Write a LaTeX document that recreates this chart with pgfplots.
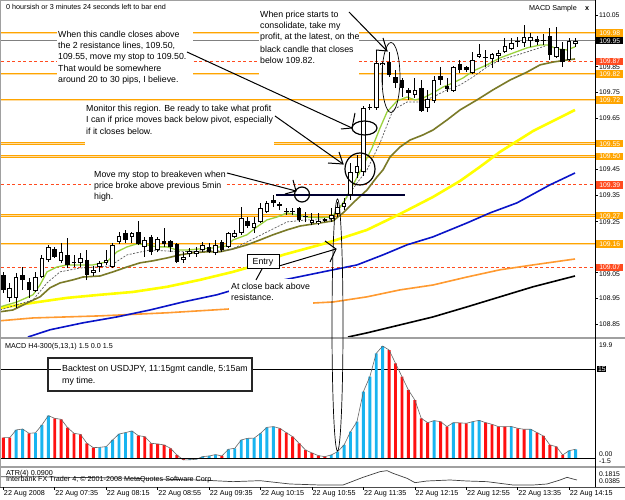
\documentclass[border=0pt]{standalone}
\usepackage{pgfplots}
\pgfplotsset{compat=1.18}
\usepackage{pgfplotstable}
\usepackage{fontspec}
\setmainfont{Liberation Sans}
\definecolor{lvlorange}{HTML}{FFA500}
\definecolor{lvlinner}{HTML}{FFDCA0}
\definecolor{lvlred}{HTML}{FF4B1F}
\definecolor{mablue}{HTML}{0A14C8}
\definecolor{maorange}{HTML}{FF9A30}
\definecolor{mayellow}{HTML}{FFFF00}
\definecolor{maolive}{HTML}{7A7A28}
\definecolor{magreen}{HTML}{9AD23C}
\definecolor{histblue}{HTML}{18B4F0}
\definecolor{histred}{HTML}{FF1010}
\definecolor{framegray}{HTML}{A0A0A0}
\newcommand{\fa}{\fontsize{8.8bp}{10bp}\selectfont}
\newcommand{\fs}{\fontsize{7.2bp}{8bp}\selectfont}
\newcommand{\fp}{\fontsize{6.8bp}{7.5bp}\selectfont}

% white (bull) candles: x low high bottom(open) top(close)
\pgfplotstableread{
x L H B T
1 108.935 109.009 108.951 108.990
2 108.912 109.048 108.951 109.032
5 108.974 109.051 108.978 109.032
6 109.028 109.117 109.032 109.106
7 109.090 109.156 109.098 109.148
9 109.086 109.164 109.094 109.129
12 109.071 109.125 109.086 109.106
14 109.036 109.075 109.048 109.059
15 109.051 109.094 109.071 109.086
16 109.079 109.137 109.086 109.098
17 109.067 109.164 109.071 109.156
18 109.160 109.206 109.168 109.191
20 109.164 109.206 109.187 109.203
22 109.110 109.187 109.148 109.176
24 109.129 109.187 109.137 109.179
28 109.086 109.129 109.098 109.110
29 109.110 109.144 109.121 109.133
30 109.110 109.148 109.121 109.133
31 109.129 109.168 109.137 109.156
33 109.117 109.176 109.125 109.156
35 109.144 109.206 109.148 109.203
36 109.183 109.214 109.187 109.203
37 109.195 109.303 109.203 109.261
39 109.203 109.265 109.222 109.241
40 109.241 109.319 109.245 109.300
41 109.280 109.327 109.284 109.319
48 109.234 109.280 109.241 109.253
49 109.234 109.280 109.241 109.249
51 109.245 109.300 109.257 109.273
52 109.265 109.323 109.276 109.304
53 109.292 109.339 109.304 109.319
54 109.331 109.475 109.351 109.440
55 109.417 109.506 109.436 109.463
56 109.425 109.697 109.440 109.689
58 109.681 109.914 109.689 109.863
59 109.778 109.867 109.856 109.863
64 109.728 109.805 109.740 109.759
66 109.673 109.759 109.689 109.724
67 109.708 109.813 109.716 109.798
70 109.751 109.852 109.755 109.848
73 109.821 109.906 109.825 109.875
74 109.883 109.937 109.887 109.898
76 109.844 109.902 109.879 109.898
77 109.867 109.914 109.891 109.902
78 109.902 109.961 109.906 109.929
79 109.914 109.961 109.918 109.941
81 109.926 110.011 109.941 109.964
82 109.926 109.980 109.949 109.964
86 109.883 110.003 109.887 109.926
88 109.871 109.961 109.875 109.949
89 109.926 109.961 109.937 109.949
}\wcandles

% black (bear) candles and dojis: x low high bottom(close) top(open)
\pgfplotstableread{
x L H B T
0 108.970 109.051 108.981 109.040
3 108.981 109.071 109.020 109.040
4 108.951 109.028 108.981 109.013
8 109.106 109.148 109.110 109.141
10 109.067 109.183 109.079 109.117
11 109.071 109.117 109.086 109.090
13 109.020 109.137 109.040 109.098
19 109.164 109.214 109.176 109.203
21 109.156 109.249 109.160 109.206
23 109.117 109.195 109.129 109.187
25 109.148 109.222 109.160 109.172
26 109.129 109.176 109.148 109.172
27 109.086 109.164 109.090 109.160
32 109.125 109.164 109.129 109.148
34 109.129 109.176 109.137 109.168
38 109.222 109.265 109.230 109.249
42 109.303 109.351 109.319 109.331
43 109.292 109.323 109.307 109.315
44 109.273 109.300 109.284 109.288
45 109.273 109.300 109.283 109.287
46 109.245 109.303 109.253 109.300
47 109.245 109.284 109.265 109.269
50 109.245 109.261 109.249 109.257
57 109.681 109.704 109.690 109.694
60 109.809 109.906 109.817 109.867
61 109.766 109.836 109.786 109.809
62 109.731 109.805 109.766 109.798
63 109.720 109.766 109.747 109.759
65 109.673 109.798 109.677 109.766
68 109.778 109.848 109.798 109.813
69 109.751 109.805 109.763 109.774
71 109.825 109.875 109.836 109.860
72 109.828 109.852 109.836 109.848
75 109.848 109.914 109.883 109.887
80 109.926 109.964 109.944 109.947
83 109.933 109.968 109.945 109.957
84 109.933 109.976 109.951 109.954
85 109.875 109.999 109.895 109.968
87 109.848 109.945 109.867 109.918
}\bcandles

\pgfplotsset{
 lvl/.style={draw=lvlorange, line width=0.9bp, double=lvlinner, double distance=0.7bp},
 rlvl/.style={draw=lvlred, line width=0.8bp, dash pattern=on 3bp off 2.5bp},
 wick/.style={draw=none, mark=none, error bars/.cd, y dir=plus, y explicit, error mark=none,
   error bar style={draw=black, line width=0.9bp}},
 body/.style={draw=none, mark=none, error bars/.cd, y dir=plus, y explicit, error mark=none,
   error bar style={draw=#1, line width=4.6bp}},
 inner/.style={draw=none, mark=none, error bars/.cd, y dir=plus, y explicit, error mark=none,
   error bar style={draw=white, line width=2.6bp}},
}

\begin{document}
\begin{tikzpicture}
\fill[white] (0,0) rectangle (625bp,500bp);
\useasboundingbox (0,0) rectangle (625bp,500bp);

% ===== main price pane =====
\begin{axis}[at={(1bp,163bp)}, anchor=south west, scale only axis,
  width=594bp, height=333bp, xmin=-0.358, xmax=92.02,
  ymin=108.799, ymax=110.0925, hide axis, clip mode=individual]
% levels
\addplot[lvl] coordinates {(-0.358,109.98) (92.02,109.98)};
\addplot[draw=gray, line width=0.8bp] coordinates {(-0.358,109.95) (92.02,109.95)};
\addplot[rlvl] coordinates {(-0.358,109.87) (92.02,109.87)};
\addplot[lvl] coordinates {(-0.358,109.82) (92.02,109.82)};
\addplot[lvl] coordinates {(-0.358,109.72) (92.02,109.72)};
\addplot[lvl] coordinates {(-0.358,109.55) (92.02,109.55)};
\addplot[lvl] coordinates {(-0.358,109.50) (92.02,109.50)};
\addplot[rlvl] coordinates {(-0.358,109.39) (92.02,109.39)};
\addplot[lvl] coordinates {(-0.358,109.27) (92.02,109.27)};
\addplot[lvl] coordinates {(-0.358,109.16) (92.02,109.16)};
\addplot[rlvl] coordinates {(-0.358,109.07) (92.02,109.07)};
% moving averages
\addplot[black, line width=1.6bp] coordinates {(53.61,108.799)(56.56,108.815)(61.70,108.846)(66.83,108.877)(72.11,108.916)(77.24,108.955)(82.38,108.994)(88.91,109.036)};
\addplot[maorange, line width=1.6bp] coordinates {(-0.5,108.862)(4.62,108.873)(15.04,108.881)(25.46,108.893)(35.26,108.908)(48.16,108.931)(51.28,108.935)(56.56,108.955)(61.70,108.982)(66.83,109.001)(72.11,109.032)(77.24,109.060)(82.38,109.079)(88.91,109.102)};
\addplot[mablue, line width=1.6bp] coordinates {(3.84,108.799)(7.26,108.827)(12.39,108.854)(17.68,108.877)(22.82,108.904)(27.95,108.935)(33.23,108.963)(35.26,108.978)(48.16,109.044)(51.28,109.060)(55.01,109.079)(59.05,109.118)(62.79,109.157)(66.83,109.188)(72.11,109.242)(75.69,109.281)(79.89,109.320)(85.02,109.390)(88.91,109.436)};
\addplot[mayellow, line width=2.6bp] coordinates {(-0.5,108.912)(4.62,108.932)(9.91,108.951)(15.04,108.963)(20.17,108.974)(25.46,108.994)(30.59,109.021)(35.72,109.052)(38.37,109.071)(43.50,109.118)(49.25,109.157)(51.28,109.172)(56.56,109.215)(61.70,109.277)(66.83,109.343)(71.03,109.405)(74.13,109.460)(77.24,109.518)(82.38,109.599)(88.91,109.681)};
\addplot[maolive, line width=1.6bp] coordinates {(-0.5,108.897)(1.51,108.904)(3.69,108.931)(5.71,108.955)(7.26,108.990)(8.82,109.009)(10.84,109.021)(12.39,109.032)(15.04,109.036)(17.06,109.052)(19.24,109.071)(21.26,109.087)(23.28,109.095)(25.46,109.106)(27.48,109.118)(29.50,109.126)(31.68,109.130)(33.70,109.130)(35.72,109.141)(37.90,109.157)(39.92,109.176)(41.94,109.196)(44.12,109.215)(46.14,109.230)(49.25,109.242)(51.28,109.250)(52.83,109.281)(54.39,109.320)(56.56,109.370)(58.12,109.421)(59.05,109.448)(60.14,109.498)(61.70,109.537)(63.25,109.564)(65.27,109.584)(66.83,109.603)(69.00,109.642)(71.03,109.681)(73.67,109.720)(76.16,109.759)(78.80,109.797)(81.45,109.828)(83.47,109.856)(85.49,109.867)(87.67,109.875)(88.91,109.879)};
\addplot[black!65, line width=0.7bp, dash pattern=on 2bp off 1.5bp] coordinates {(-0.5,108.904)(4.62,108.943)(6.80,109.009)(8.82,109.052)(11.93,109.067)(16.59,109.075)(19.24,109.118)(22.82,109.137)(27.48,109.130)(35.26,109.137)(37.90,109.168)(41.01,109.207)(44.12,109.246)(47.23,109.254)(50.81,109.254)(52.83,109.320)(55.01,109.397)(56.56,109.448)(58.59,109.553)(60.61,109.681)(62.79,109.712)(64.81,109.712)(66.83,109.731)(69.00,109.759)(71.03,109.778)(73.05,109.809)(75.22,109.848)(77.24,109.875)(79.89,109.894)(82.38,109.914)(84.25,109.929)};
\addplot[magreen, line width=1.3bp] coordinates {(-0.5,108.916)(2.13,108.935)(4.62,108.963)(5.71,109.001)(6.80,109.052)(8.35,109.071)(9.91,109.079)(11.93,109.079)(13.95,109.079)(16.13,109.091)(17.68,109.130)(19.24,109.149)(20.79,109.161)(22.35,109.157)(23.90,109.149)(25.46,109.149)(27.01,109.137)(28.57,109.137)(30.59,109.141)(32.61,109.145)(34.79,109.153)(35.72,109.176)(37.90,109.196)(39.46,109.227)(41.01,109.254)(42.56,109.265)(44.12,109.281)(45.68,109.273)(47.23,109.265)(49.25,109.262)(50.81,109.265)(51.90,109.285)(53.14,109.331)(54.39,109.390)(55.79,109.456)(57.34,109.533)(58.59,109.611)(59.68,109.673)(61.23,109.716)(62.79,109.731)(64.03,109.720)(65.27,109.727)(66.83,109.747)(68.38,109.770)(69.94,109.786)(71.49,109.805)(73.05,109.832)(75.22,109.856)(77.24,109.883)(79.27,109.902)(81.45,109.922)(83.47,109.933)(84.71,109.933)(86.11,109.918)(87.67,109.914)(88.91,109.926)};
% horizontal trend line
\addplot[black!80!blue, line width=1.4bp] coordinates {(42.4,109.351)(62.5,109.351)};
% candles: wicks
\addplot[wick] table[x=x, y=L, y error plus expr=\thisrow{H}-\thisrow{L}] {\wcandles};
\addplot[wick] table[x=x, y=L, y error plus expr=\thisrow{H}-\thisrow{L}] {\bcandles};
% candles: bodies
\addplot[body=black] table[x=x, y=B, y error plus expr=\thisrow{T}-\thisrow{B}] {\bcandles};
\addplot[body=black] table[x=x, y=B, y error plus expr=\thisrow{T}-\thisrow{B}] {\wcandles};
\addplot[inner] table[x=x, y expr=\thisrow{B}+0.0039, y error plus expr=\thisrow{T}-\thisrow{B}-0.0078] {\wcandles};
\end{axis}

% ===== MACD pane =====
\begin{axis}[at={(1bp,34bp)}, anchor=south west, scale only axis,
  width=594bp, height=127bp, xmin=-0.358, xmax=92.02,
  ymin=-1.30, ymax=20.12, hide axis, clip mode=individual]
\addplot[black, line width=0.6bp] coordinates {(-0.358,15)(92.02,15)};
\addplot[ybar, bar width=2.9bp, bar shift=0pt, fill=histblue, draw=none] coordinates {
(2,4.78)(3,4.94)(5,4.30)(6,5.62)(7,7.19)(15,1.85)(16,1.97)(17,3.09)(18,4.10)(19,4.33)(20,4.61)
(29,-0.25)(30,-0.17)(31,0.28)(32,0.39)(33,0.62)(35,1.52)(36,1.69)(37,3.09)(38,3.37)(39,3.40)(40,4.21)(41,5.22)(42,5.34)
(51,0.56)(52,1.12)(53,2.25)(54,4.49)(55,6.18)(56,11.24)(57,13.76)(58,17.70)(59,18.93)
(67,6.35)(70,6.01)(73,6.18)(74,6.40)(79,5.36)(82,4.91)(88,1.29)(89,1.52)};
\addplot[ybar, bar width=2.9bp, bar shift=0pt, fill=histred, draw=none] coordinates {
(0,3.48)(1,3.48)(4,4.21)(8,6.74)(9,6.57)(10,5.17)(11,4.21)(12,4.04)(13,2.53)(14,1.80)
(21,3.82)(22,3.65)(23,2.53)(24,2.42)(25,2.25)(26,1.69)(27,0.56)(28,-0.28)(34,0.39)
(43,5.06)(44,4.33)(45,3.65)(46,2.53)(47,1.40)(48,0.90)(49,0.45)(50,0.28)
(60,18.26)(61,16.01)(62,13.76)(63,11.52)(64,9.83)(65,6.74)(66,6.01)(68,6.18)(69,5.34)
(71,5.98)(72,5.90)(75,6.01)(76,5.73)(77,5.34)(78,5.32)(80,5.06)(81,4.89)(83,4.33)(84,3.76)(85,2.25)(86,1.97)(87,0.56)};
\addplot[black!60, line width=0.6bp] coordinates {
(0,3.48)(1,3.48)(2,4.78)(3,4.94)(4,4.21)(5,4.30)(6,5.62)(7,7.19)(8,6.74)(9,6.57)(10,5.17)(11,4.21)(12,4.04)(13,2.53)(14,1.80)(15,1.85)(16,1.97)(17,3.09)(18,4.10)(19,4.33)(20,4.61)(21,3.82)(22,3.65)(23,2.53)(24,2.42)(25,2.25)(26,1.69)(27,0.56)(28,-0.28)(29,-0.25)(30,-0.17)(31,0.28)(32,0.39)(33,0.62)(34,0.39)(35,1.52)(36,1.69)(37,3.09)(38,3.37)(39,3.40)(40,4.21)(41,5.22)(42,5.34)(43,5.06)(44,4.33)(45,3.65)(46,2.53)(47,1.40)(48,0.90)(49,0.45)(50,0.28)(51,0.56)(52,1.12)(53,2.25)(54,4.49)(55,6.18)(56,11.24)(57,13.76)(58,17.70)(59,18.93)(60,18.26)(61,16.01)(62,13.76)(63,11.52)(64,9.83)(65,6.74)(66,6.01)(67,6.35)(68,6.18)(69,5.34)(70,6.01)(71,5.98)(72,5.90)(73,6.18)(74,6.40)(75,6.01)(76,5.73)(77,5.34)(78,5.32)(79,5.36)(80,5.06)(81,4.89)(82,4.91)(83,4.33)(84,3.76)(85,2.25)(86,1.97)(87,0.56)(88,1.29)(89,1.52)};
\addplot[black, line width=0.7bp] coordinates {(-0.358,0)(92.02,0)};
\end{axis}

% ===== ATR pane =====
\begin{axis}[at={(1bp,13bp)}, anchor=south west, scale only axis,
  width=594bp, height=20bp, xmin=-0.358, xmax=92.02,
  ymin=0.0194, ymax=0.2101, hide axis, clip mode=individual]
\addplot[black!75, line width=0.7bp] coordinates {(-0.5,0.1180)(4.62,0.1180)(9.91,0.1116)(15.04,0.1084)(20.17,0.1021)(25.46,0.0925)(30.59,0.0862)(35.72,0.0703)(39.92,0.0798)(44.59,0.0480)(49.25,0.0385)(52.83,0.0385)(53.92,0.0639)(55.94,0.1116)(58.59,0.1656)(59.68,0.1752)(60.61,0.1497)(62.79,0.1021)(64.03,0.0607)(65.89,0.0766)(69.47,0.0862)(72.11,0.0766)(75.22,0.0703)(77.24,0.0544)(79.27,0.0385)(82.38,0.0385)(84.56,0.0480)(86.58,0.0862)(87.67,0.1116)(88.60,0.0957)(89.22,0.0862)};
\end{axis}

% ===== frame, annotations, labels (pixel coordinates from top-left) =====
\begin{scope}[x=1bp, y=-1bp, shift={(0bp,500bp)}]
% frame
\draw[framegray, line width=1bp] (0.5,0.5) -- (0.5,488) ;
\draw[framegray, line width=1bp] (0.5,1) -- (595,1);
\draw[framegray, line width=2bp] (0.5,338.5) -- (625,338.5);
\draw[framegray, line width=2bp] (0.5,466.8) -- (625,466.8);
\draw[black!70, line width=1bp] (0.5,487.5) -- (625,487.5);
\draw[black, line width=0.8bp] (595.3,0.5) -- (595.3,487.5);

% white text boxes hiding lines
\fill[white] (57,27) rectangle (193,87);
\fill[white] (259,8) rectangle (359,78);
\fill[white] (85,103) rectangle (274,150);
\fill[white] (91,169) rectangle (226,203);
\fill[white] (229,279) rectangle (313,312);
\fill[white] (61,362) rectangle (251,387);

\begin{scope}[every node/.style={anchor=west, inner sep=0pt, font=\fa}]
\node at (58,34) {When this candle closes above};
\node at (58,45.5) {the 2 resistance lines, 109.50,};
\node at (58,57) {109.55, move my stop to 109.50.};
\node at (58,68.5) {That would be somewhere};
\node at (58,80) {around 20 to 30 pips, I believe.};
\node at (260,15) {When price starts to};
\node at (260,26.3) {consolidate, take my};
\node at (260,37.6) {profit, at the latest, on the};
\node at (260,48.9) {black candle that closes};
\node at (260,60.2) {below 109.82.};
\node at (86,109) {Monitor this region. Be ready to take what profit};
\node at (86,120) {I can if price moves back below pivot, especially};
\node at (86,131) {if it closes below.};
\node at (94,175) {Move my stop to breakeven when};
\node at (94,186) {price broke above previous 5min};
\node at (94,197) {high.};
\node at (231,286) {At close back above};
\node at (231,297) {resistance.};
\node at (62,369) {Backtest on USDJPY, 11:15gmt candle, 5:15am};
\node at (62,381) {my time.};
\end{scope}
\draw[black, line width=1bp, fill=white] (247,255) rectangle (279,269);
\node[font=\fa, inner sep=0pt] at (263,262) {Entry};
\draw[black!85, line width=1.2bp] (48,358) rectangle (252,391);

% arrows and ellipses
\begin{scope}[black, line width=1bp]
\draw (187,52) -- (352,128);  \draw (355,113) -- (352,128) -- (341,129);
\draw (275,116) -- (343,164); \draw (339,152) -- (343,164) -- (328,163);
\draw (227,173) -- (296,191); \draw (293,180) -- (296,191) -- (285,194);
\draw (349,12) -- (387,51);   \draw (383,38) -- (387,51) -- (376,50);
\draw (279,266) -- (336,249); \draw (325,241) -- (336,249) -- (330,262);
\draw (262,269) -- (256,280);
\draw[line width=1.2bp] (302,194.5) ellipse [x radius=7.5bp, y radius=7.5bp];
\draw[line width=1.2bp] (360,169) ellipse [x radius=15bp, y radius=16bp];
\draw[line width=1.2bp] (364.5,128) ellipse [x radius=12.5bp, y radius=7bp];
\draw[line width=0.7bp] (391,77.5) ellipse [x radius=9bp, y radius=35bp];
\draw[line width=0.7bp] (337.5,325) ellipse [x radius=5.5bp, y radius=126bp];
\end{scope}

% top texts
\node[anchor=west, inner sep=0pt, font=\fs] at (6,7) {0 hoursish or 3 minutes 24 seconds left to bar end};
\node[anchor=west, inner sep=0pt, font=\fs] at (529,9) {MACD Sample};
\node[anchor=west, inner sep=0pt, font=\fs\bfseries] at (585,9) {x};
\node[anchor=west, inner sep=0pt, font=\fs] at (5,347) {MACD H4-300(5,13,1) 1.5 0.0 1.5};
\node[anchor=west, inner sep=0pt, font=\fs] at (6,474) {ATR(4) 0.0900};
\node[anchor=west, inner sep=0pt, font=\fs] at (6,480) {Interbank FX Trader 4, \textcopyright{} 2001-2008 MetaQuotes Software Corp.};

% price scale ticks (labels hidden behind level boxes are left out or nudged clear)
\foreach \yy in {14.9, 40.7, 66.4, 92.2, 117.9, 143.7, 169.5, 195.2, 221.0, 246.7, 272.5, 298.2, 324.0}{
  \draw[black, line width=0.6bp] (595,\yy) -- (598,\yy);
}
\foreach \yy/\lab in {14.9/110.05, 67.6/109.85, 92.2/109.75, 117.9/109.65, 169.5/109.45, 195.2/109.35, 222.6/109.25, 274.2/109.05, 298.2/108.95, 324.0/108.85}{
  \node[anchor=west, inner sep=0pt, font=\fp] at (599,\yy) {\lab};
}
% level boxes
\begin{scope}[every node/.style={anchor=west, inner sep=0.5bp, font=\fp, text=white, minimum width=27bp, minimum height=7.4bp}]
\node[fill=lvlorange] at (596,33.0) {109.98};
\node[fill=black] at (596,40.7) {109.95};
\node[fill=lvlred] at (596,61.3) {109.87};
\node[fill=lvlorange] at (596,74.2) {109.82};
\node[fill=lvlorange] at (596,99.9) {109.72};
\node[fill=lvlorange] at (596,143.7) {109.55};
\node[fill=lvlorange] at (596,156.6) {109.50};
\node[fill=lvlred] at (596,184.9) {109.39};
\node[fill=lvlorange] at (596,215.8) {109.27};
\node[fill=lvlorange] at (596,244.1) {109.16};
\node[fill=lvlred] at (596,267.3) {109.07};
\end{scope}
% MACD and ATR scale
\node[anchor=west, inner sep=0pt, font=\fp] at (599,345) {19.9};
\node[anchor=west, inner sep=0.8bp, font=\fp, text=white, fill=black] at (597,369) {15};
\node[anchor=west, inner sep=0pt, font=\fp] at (599,454) {0.00};
\node[anchor=west, inner sep=0pt, font=\fp] at (599,461.5) {-1.5};
\node[anchor=west, inner sep=0pt, font=\fp] at (599,474) {0.1815};
\node[anchor=west, inner sep=0pt, font=\fp] at (599,481.5) {0.0385};
% time axis
\foreach \xx/\lab in {3.3/22 Aug 2008, 54.7/22 Aug 07:35, 106.2/22 Aug 08:15, 157.6/22 Aug 08:55, 209.1/22 Aug 09:35, 260.5/22 Aug 10:15, 312.0/22 Aug 10:55, 363.4/22 Aug 11:35, 414.8/22 Aug 12:15, 466.3/22 Aug 12:55, 517.7/22 Aug 13:35, 569.1/22 Aug 14:15}{
  \draw[black, line width=0.6bp] (\xx,487.5) -- (\xx,490.5);
  \node[anchor=west, inner sep=0pt, font=\fs] at (\xx+0.5,494) {\lab};
}
\end{scope}
\end{tikzpicture}
\end{document}
